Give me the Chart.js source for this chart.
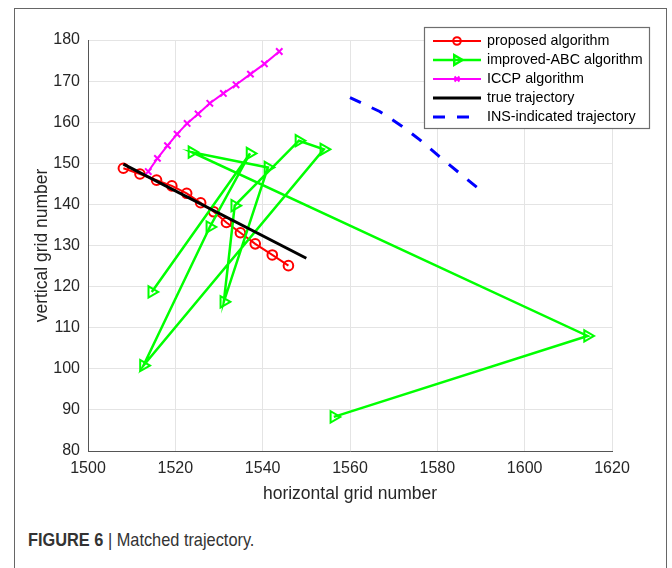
<!DOCTYPE html>
<html lang="en">
<head>
<meta charset="UTF-8">
<title>Matched trajectory</title>
<script src="https://cdn.jsdelivr.net/npm/chart.js"></script>
<style>
  body { margin: 0; background: #fff; width: 672px; height: 568px; overflow: hidden; position: relative; }
  .frame { position: absolute; left: 14px; top: 8px; width: 653px; height: 600px; border: 1.5px solid #666; box-sizing: border-box; }
  .plot { position: absolute; left: 0; top: 0; }
  .caption { position: absolute; left: 28px; top: 529px; font-family: "Liberation Sans", Arial, sans-serif; font-size: 19px; color: #333; white-space: nowrap; transform: scaleX(0.86); transform-origin: left center; }
</style>
</head>
<body>
<div class="frame"></div>
<canvas id="traj" class="plot" width="672" height="520"></canvas>
<div class="caption"><b>FIGURE 6</b> | Matched trajectory.</div>

<script>
// values (horizontal / vertical grid number)
const proposedX = [1508.1, 1511.9, 1515.7, 1519.2, 1522.6, 1525.8, 1528.8, 1531.7, 1534.9, 1538.3, 1542.2, 1545.9];
const proposedY = [148.8, 147.4, 145.9, 144.5, 142.7, 140.4, 138.2, 135.6, 133.1, 130.4, 127.7, 125.1];

const abcX = [1514.6, 1537.1, 1527.9, 1512.7, 1554.0, 1548.3, 1533.6, 1531.1, 1541.2, 1523.8, 1614.4, 1556.3];
const abcY = [118.7, 152.4, 134.5, 100.8, 153.4, 155.5, 139.7, 116.3, 149.0, 152.7, 108.0, 88.3];

const iccpX = [1513.8, 1515.9, 1518.2, 1520.4, 1522.7, 1525.2, 1527.9, 1531.0, 1533.9, 1537.2, 1540.4, 1543.8];
const iccpY = [148.0, 151.2, 154.3, 157.1, 159.7, 162.0, 164.6, 167.0, 169.1, 171.7, 174.2, 177.2];

const trueX = [1508.1, 1550.0];
const trueY = [149.8, 126.9];

const insX = [1560.0, 1566.8, 1571.8, 1576.0, 1580.5, 1585.1, 1590.6];
const insY = [166.0, 162.6, 159.1, 155.7, 151.6, 147.6, 142.8];

const xTicks = { min: 1500, max: 1620, step: 20 };
const yTicks = { min: 80, max: 180, step: 10 };

function pts(xs, ys) {
    return xs.map((x, i) => ({ x: x, y: ys[i] }));
}

// matlab style legend box in the top right corner
const legendBox = {
    id: 'legendBox',
    afterDraw(chart) {
        const ctx = chart.ctx;
        const x0 = 424, y0 = 27, w = 225, h = 101;
        ctx.save();
        ctx.fillStyle = '#fff';
        ctx.fillRect(x0, y0, w, h);
        ctx.strokeStyle = '#6e6e6e';
        ctx.lineWidth = 1.2;
        ctx.strokeRect(x0 + 0.5, y0 + 0.5, w, h);
        chart.data.datasets.forEach((ds, i) => {
            const y = y0 + 14 + i * 19;
            ctx.strokeStyle = ds.borderColor;
            ctx.lineWidth = ds.borderWidth;
            ctx.setLineDash(ds.borderDash || []);
            ctx.beginPath();
            ctx.moveTo(x0 + 9, y);
            ctx.lineTo(x0 + 57, y);
            ctx.stroke();
            ctx.setLineDash([]);
            if (ds.pointRadius > 0) {
                ctx.strokeStyle = ds.pointBorderColor;
                ctx.fillStyle = 'rgba(0,0,0,0)';
                Chart.helpers.drawPoint(ctx, {
                    pointStyle: ds.pointStyle,
                    rotation: ds.pointRotation || 0,
                    radius: ds.pointRadius - 1,
                    borderWidth: ds.pointBorderWidth
                }, x0 + 33, y);
            }
            ctx.fillStyle = '#000';
            ctx.font = '14.3px "Liberation Sans", Arial, sans-serif';
            ctx.textBaseline = 'middle';
            ctx.textAlign = 'left';
            ctx.fillText(ds.label, x0 + 63, y);
        });
        ctx.restore();
    }
};

const tickFont = { family: '"Liberation Sans", Arial, sans-serif', size: 16 };
const titleFont = { family: '"Liberation Sans", Arial, sans-serif', size: 17.5 };

new Chart(document.getElementById('traj').getContext('2d'), {
    type: 'scatter',
    data: {
        datasets: [
            {
                label: 'proposed algorithm',
                data: pts(proposedX, proposedY),
                showLine: true,
                borderColor: '#ff0000',
                borderWidth: 2,
                pointStyle: 'circle',
                pointRadius: 4.8,
                pointBorderWidth: 2,
                pointBorderColor: '#ff0000',
                pointBackgroundColor: 'rgba(0,0,0,0)',
                order: 5
            },
            {
                label: 'improved-ABC algorithm',
                data: pts(abcX, abcY),
                showLine: true,
                borderColor: '#00ff00',
                borderWidth: 2.5,
                pointStyle: 'triangle',
                pointRotation: 90,
                pointRadius: 6.5,
                pointBorderWidth: 2,
                pointBorderColor: '#00ff00',
                pointBackgroundColor: 'rgba(0,0,0,0)',
                order: 4
            },
            {
                label: 'ICCP algorithm',
                data: pts(iccpX, iccpY),
                showLine: true,
                borderColor: '#ff00ff',
                borderWidth: 2,
                pointStyle: 'crossRot',
                pointRadius: 4.5,
                pointBorderWidth: 2,
                pointBorderColor: '#ff00ff',
                order: 3
            },
            {
                label: 'true trajectory',
                data: pts(trueX, trueY),
                showLine: true,
                borderColor: '#000000',
                borderWidth: 3,
                pointRadius: 0,
                order: 2
            },
            {
                label: 'INS-indicated trajectory',
                data: pts(insX, insY),
                showLine: true,
                borderColor: '#0000ff',
                borderWidth: 3,
                borderDash: [12, 12],
                borderCapStyle: 'butt',
                pointRadius: 0,
                order: 1
            }
        ]
    },
    options: {
        responsive: false,
        animation: false,
        layout: { padding: { top: 40, right: 60, left: 0, bottom: 0 } },
        plugins: {
            legend: { display: false },
            tooltip: { enabled: false }
        },
        scales: {
            x: {
                type: 'linear',
                min: xTicks.min,
                max: xTicks.max,
                ticks: { stepSize: xTicks.step, color: '#262626', font: tickFont, padding: 8, callback: v => String(v) },
                grid: { color: '#e4e4e4', drawTicks: false },
                border: { color: '#555', width: 1 },
                title: { display: true, text: 'horizontal grid number', color: '#262626', font: titleFont, padding: { top: 0, bottom: 15.5 } },
                afterFit: s => { s.height = 69; }
            },
            y: {
                type: 'linear',
                min: yTicks.min,
                max: yTicks.max,
                ticks: { stepSize: yTicks.step, color: '#262626', font: tickFont, padding: 8, callback: v => String(v) },
                grid: { color: '#e4e4e4', drawTicks: false },
                border: { color: '#555', width: 1 },
                title: { display: true, text: 'vertical grid number', color: '#262626', font: titleFont, padding: { top: 31.5, bottom: 0 } },
                afterFit: s => { s.width = 88; }
            }
        }
    },
    plugins: [legendBox]
});
</script>
</body>
</html>
